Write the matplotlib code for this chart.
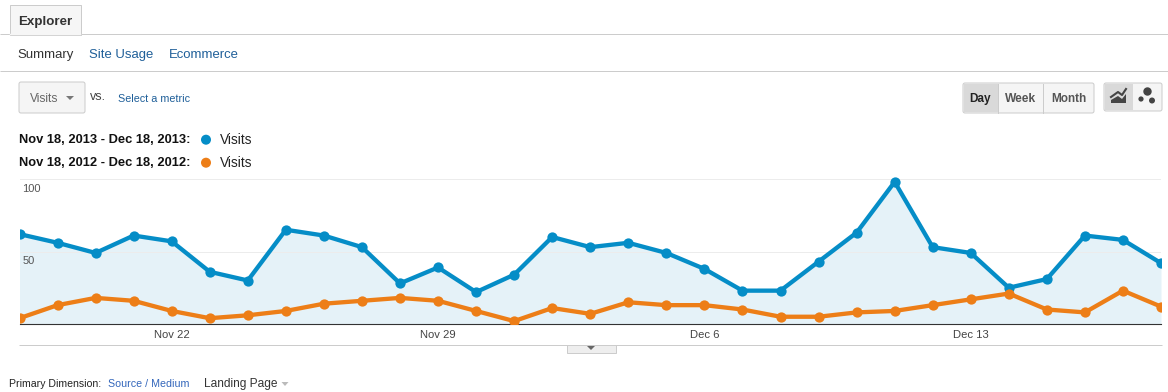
import matplotlib
matplotlib.use('Agg')
import matplotlib.pyplot as plt
from matplotlib.patches import Rectangle, FancyBboxPatch, Polygon, Circle

plt.rcParams['font.family'] = ['Liberation Sans', 'DejaVu Sans']

# Values, one per day
visits_2013 = [62, 56, 49, 61, 57, 36, 30, 65, 61, 53, 28, 39, 22, 34, 60, 53,
               56, 49, 38, 23, 23, 43, 63, 98, 53, 49, 25, 31, 61, 58, 42]
visits_2012 = [4, 13, 18, 16, 9, 4, 6, 9, 14, 16, 18, 16, 9, 2, 11, 7,
               15, 13, 13, 10, 5, 5, 8, 9, 13, 17, 21, 10, 8, 23, 12]
days = list(range(len(visits_2013)))
date_ticks = [4, 11, 18, 25]
date_labels = ['Nov 22', 'Nov 29', 'Dec 6', 'Dec 13']
y_ticks = [50, 100]

legend_rows = ['Nov 18, 2013 - Dec 18, 2013:', 'Nov 18, 2012 - Dec 18, 2012:']
tabs = ['Summary', 'Site Usage', 'Ecommerce']

BLUE = '#058dc7'
ORANGE = '#ed7e17'
FILL = '#e5f2f8'
LINK = '#1f5f99'
W, H = 1168, 392

fig = plt.figure(figsize=(W / 100, H / 100), dpi=100, facecolor='white')

# Page furniture goes on a full-size axes in pixel coordinates
ui = fig.add_axes([0, 0, 1, 1])
ui.set_xlim(0, W)
ui.set_ylim(H, 0)
ui.axis('off')


def label(x, y, s, size=12.5, color='#333333', weight='normal', ha='left'):
    ui.text(x, y, s, fontsize=size * 0.72, color=color, weight=weight, ha=ha, va='center')


def hline(y, x0, x1, color='#cccccc', lw=1.0):
    ui.plot([x0, x1], [y, y], color=color, lw=lw * 0.72, solid_capstyle='butt')


def box(x, y, w, h, face='#f5f5f5', edge='#cccccc'):
    ui.add_patch(FancyBboxPatch((x + 1, y + 1), w - 2, h - 2, boxstyle='round,pad=1,rounding_size=2',
                                fc=face, ec=edge, lw=0.72, zorder=1))


def triangle(x, y, w=8, h=4, color='#777777'):
    ui.add_patch(Polygon([(x - w / 2, y - h / 2), (x + w / 2, y - h / 2), (x, y + h / 2)],
                         closed=True, fc=color, ec='none', zorder=3))


# Tab bar
hline(34, 0, W)
hline(71, 0, W)
ui.add_patch(Rectangle((9.5, 5), 71, 29.5, fc='#f6f6f6', ec='#cccccc', lw=0.72, zorder=2))
ui.plot([10, 80], [34, 34], color='#f6f6f6', lw=1.0, zorder=3)
label(18, 21.5, 'Explorer', size=13.4, weight='bold')
label(17, 54.5, tabs[0], size=13.1)
label(89, 54.5, tabs[1], size=13.1, color=LINK)
label(169, 54.5, tabs[2], size=13.1, color=LINK)

# Metric selector
box(19, 82, 66, 31)
label(30, 99, 'Visits', size=12, color='#666666')
triangle(70, 98)
label(90, 97, 'vs.', size=12.5, color='#444444')
label(118, 98.5, 'Select a metric', size=10.8, color=LINK)

# Legend
for y, row, color in zip([140, 163], legend_rows, [BLUE, ORANGE]):
    label(19, y, row, size=12.9, color='#111111', weight='bold')
    ui.add_patch(Circle((206, y - 0.3), 5, fc=color, ec='none'))
    label(220, y, 'Visits', size=13.8, color='#222222')

# Day / Week / Month buttons
box(963, 83, 131, 30)
ui.add_patch(Rectangle((964, 84), 34, 28, fc='#d9d9d9', ec='none', zorder=2))
for x in [998, 1043]:
    ui.plot([x, x], [83.5, 112.5], color='#cccccc', lw=0.72, zorder=3)
label(980.5, 99, 'Day', size=11.8, color='#222222', weight='bold', ha='center')
label(1020.5, 99, 'Week', size=12, color='#555555', weight='bold', ha='center')
label(1068.5, 99, 'Month', size=11.8, color='#555555', weight='bold', ha='center')

# Chart type buttons
box(1104, 83, 58, 28)
ui.add_patch(Rectangle((1105, 84), 28, 26, fc='#d9d9d9', ec='none', zorder=2))
ui.plot([1111, 1118, 1122, 1126], [97, 92, 95, 89], color='#444444', lw=1.5, zorder=3)
ui.add_patch(Polygon([(1111, 103), (1111, 100), (1118, 96), (1122, 99), (1126, 94), (1126, 103)],
                     closed=True, fc='#444444', ec='none', zorder=3))
for x, y, r in [(1147.5, 91.5, 4.2), (1141, 99, 2.6), (1152, 100.5, 3)]:
    ui.add_patch(Circle((x, y), r, fc='#444444', ec='none', zorder=3))

# Rule under the chart and the collapse handle
hline(345, 19, 1162)
ui.add_patch(Rectangle((566.5, 345), 49, 8, fc='#eeeeee', ec='#cccccc', lw=0.72))
triangle(591, 348, w=8, h=4, color='#666666')

# Dimension row
label(9, 384, 'Primary Dimension:', size=10.5, color='#222222')
label(108, 384, 'Source / Medium', size=10.6, color='#3366bb')
label(204, 384, 'Landing Page', size=11.9, color='#333333')
triangle(285, 384, w=7, h=4, color='#bbbbbb')

# The chart itself: x 0-30 spans px 19.5-1161, y 0-100 spans px 324-179
# with headroom to 110 so the peak marker is not clipped
ax = fig.add_axes([19.5 / W, 1 - 324 / H, (1161 - 19.5) / W, 159.5 / H])
ax.patch.set_alpha(0)
ax.set_xlim(0, 30)
ax.set_ylim(0, 110)
for name in ['left', 'right', 'top']:
    ax.spines[name].set_visible(False)
ax.spines['bottom'].set_color('#333333')
ax.spines['bottom'].set_linewidth(0.8)

ax.fill_between(days, visits_2013, 0, color=FILL, lw=0, zorder=1)
ax.set_yticks(y_ticks)
ax.set_yticklabels([])
ax.grid(axis='y', color='#ececec', lw=0.72, zorder=2)
ax.set_axisbelow(False)
ax.tick_params(axis='y', length=0)
ax.set_xticks(date_ticks)
ax.set_xticklabels(date_labels, fontsize=8.1, color='#444444')
ax.tick_params(axis='x', length=0, pad=4.5)

ax.plot(days, visits_2013, color=BLUE, lw=3.1, marker='o', ms=7.4, mew=0, zorder=3)
ax.plot(days, visits_2012, color=ORANGE, lw=3.1, marker='o', ms=7.4, mew=0, zorder=4)

for value in y_ticks:
    ax.annotate(str(value), (0, value), xytext=(2, -7), textcoords='offset points',
                fontsize=8.0, color='#555555', va='center', ha='left', zorder=5)

fig.savefig('out.png', dpi=100, facecolor='white')
